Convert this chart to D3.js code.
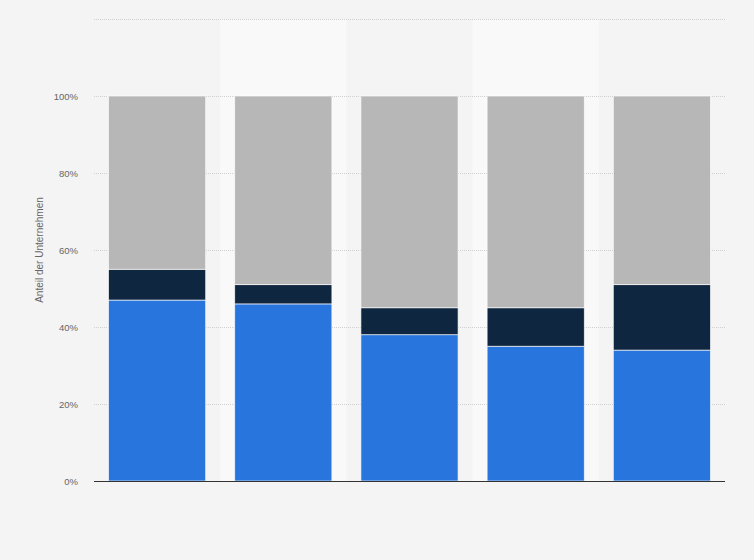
<!DOCTYPE html>
<html>
<head>
<meta charset="utf-8">
<script src="https://cdn.jsdelivr.net/npm/d3@7"></script>
<style>
	body { margin: 0; background: #f4f4f4; }
	svg { display: block; font-family: "Liberation Sans", Arial, sans-serif; }
</style>
</head>
<body>
<main></main>
<script>
// DATA
const categories = ["1", "2", "3", "4", "5"];
const seriesNames = ["blau", "dunkel", "grau"];
const blueValues = [47, 46, 38, 35, 34];
const darkValues = [8, 5, 7, 10, 17];
const greyValues = [45, 49, 55, 55, 49];
const gridTicks = [0, 20, 40, 60, 80, 100, 120];
const tickLabels = ["0%", "20%", "40%", "60%", "80%", "100%"];

const colors = { blau: "#2876dd", dunkel: "#0f2640", grau: "#b7b7b7" };

// chart dimension
const w = 754;
const h = 560;
const margin = { top: 19, right: 29, bottom: 79, left: 94 };

const svg = d3.select("main").append("svg")
	.attr("width", w)
	.attr("height", h)
	.style("background-color", "#f4f4f4");

// scales
const xScale = d3.scaleBand()
	.domain(categories)
	.range([margin.left, w - margin.right])
	.paddingInner(0.23)
	.paddingOuter(0.115);
const yScale = d3.scaleLinear()
	.domain([0, 120])
	.range([h - margin.bottom, margin.top]);

// alternating column backgrounds
const step = xScale.step();
svg.selectAll("rect.band")
	.data(categories.filter((d, i) => i % 2 === 1))
	.enter()
	.append("rect")
		.attr("class", "band")
		.attr("x", d => xScale(d) - step * xScale.paddingInner() / 2)
		.attr("y", yScale(120))
		.attr("width", step)
		.attr("height", yScale(0) - yScale(120))
		.attr("fill", "#f9f9f9");

// grid lines
svg.selectAll("line.grid")
	.data(gridTicks.filter(t => t > 0))
	.enter()
	.append("line")
		.attr("class", "grid")
		.attr("x1", margin.left)
		.attr("x2", w - margin.right)
		.attr("y1", d => yScale(d) + 0.5)
		.attr("y2", d => yScale(d) + 0.5)
		.attr("stroke", "#d0d0d0")
		.attr("stroke-width", 1)
		.attr("stroke-dasharray", "1,1");

// stacked bars
const table = categories.map((c, i) => ({
	cat: c, blau: blueValues[i], dunkel: darkValues[i], grau: greyValues[i]
}));
const stack = d3.stack().keys(seriesNames)(table);

svg.selectAll("g.series")
	.data(stack)
	.enter()
	.append("g")
		.attr("class", "series")
		.attr("fill", d => colors[d.key])
	.selectAll("rect")
	.data(d => d)
	.enter()
	.append("rect")
		.attr("x", d => xScale(d.data.cat))
		.attr("y", d => yScale(d[1]))
		.attr("width", xScale.bandwidth())
		.attr("height", d => yScale(d[0]) - yScale(d[1]))
		.attr("stroke", "#ffffff")
		.attr("stroke-width", 0.8)
		.attr("stroke-opacity", 0.8);

// y axis labels
svg.selectAll("text.tick")
	.data(tickLabels)
	.enter()
	.append("text")
		.attr("class", "tick")
		.attr("x", 78)
		.attr("y", (d, i) => yScale(gridTicks[i]) + 3.5)
		.attr("text-anchor", "end")
		.attr("font-size", 9.5)
		.attr("fill", "#666")
		.text(d => d);

// baseline
svg.append("line")
	.attr("x1", margin.left)
	.attr("x2", w - margin.right)
	.attr("y1", yScale(0) + 0.5)
	.attr("y2", yScale(0) + 0.5)
	.attr("stroke", "#333")
	.attr("stroke-width", 1);

// axis title
svg.append("text")
	.attr("transform", `translate(43, ${yScale(60)}) rotate(-90)`)
	.attr("text-anchor", "middle")
	.attr("font-size", 10)
	.attr("fill", "#666")
	.text("Anteil der Unternehmen");
</script>
</body>
</html>
